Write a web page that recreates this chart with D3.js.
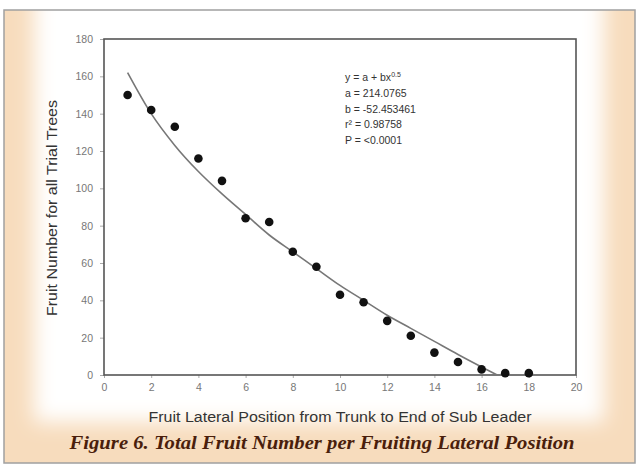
<!DOCTYPE html>
<html><head><meta charset="utf-8">
<script src="https://cdn.jsdelivr.net/npm/d3@7/dist/d3.min.js"></script>
<style>html,body{margin:0;padding:0;background:#fff;}svg{display:block;}</style>
</head><body>
<script>
// Data
const positions = [1,2,3,4,5,6,7,8,9,10,11,12,13,14,15,16,17,18];
const fruitCounts = [150,142,133,116,104,84,82,66,58,43,39,29,21,12,7,3,1,1];
// fitted curve, sampled from the drawn line
const curveX = [1,2,3,4,5,6,7,8,9,10,11,12,13,14,15,16,16.66];
const curveY = [162,140,123,109,97,86,75,66,57,48,40,32,25,18,11,4.3,0];
const xTicks = [0,2,4,6,8,10,12,14,16,18,20];
const yTicks = [0,20,40,60,80,100,120,140,160,180];
const statsLines = ["a = 214.0765","b = -52.453461","r\u00b2 = 0.98758","P = <0.0001"];
const xTitle = "Fruit Lateral Position from Trunk to End of Sub Leader";
const yTitle = "Fruit Number for all Trial Trees";
const caption = "Figure 6. Total Fruit Number per Fruiting Lateral Position";

const W = 638, H = 466;
const svg = d3.select("body").append("svg").attr("width", W).attr("height", H);
const defs = svg.append("defs");
defs.append("filter").attr("id","blur").attr("x","-20%").attr("y","-20%").attr("width","140%").attr("height","140%")
  .append("feGaussianBlur").attr("stdDeviation", 10);

// frame background
svg.append("rect").attr("x",0).attr("y",0).attr("width",W).attr("height",H).attr("fill","#fff");
svg.append("rect").attr("x",4).attr("y",10).attr("width",631).attr("height",453)
  .attr("fill","#f7dcbd");
svg.append("rect").attr("x",34).attr("y",-20).attr("width",570).attr("height",442)
  .attr("fill","#fff").attr("filter","url(#blur)");
svg.append("rect").attr("x",4).attr("y",10).attr("width",631).attr("height",453)
  .attr("fill","none").attr("stroke","#a0a0a0").attr("stroke-width",1.5);

const x = d3.scaleLinear().domain([0,20]).range([104,576]);
const y = d3.scaleLinear().domain([0,180]).range([375,39]);

const axisColor = "#555";
const gx = svg.append("g").attr("transform",`translate(0,${y(0)})`)
  .call(d3.axisBottom(x).tickValues(xTicks).tickSize(3).tickPadding(6).tickFormat(d3.format("d")));
const gy = svg.append("g").attr("transform",`translate(${x(0)},0)`)
  .call(d3.axisLeft(y).tickValues(yTicks).tickSize(4).tickPadding(7).tickFormat(d3.format("d")));
[gx,gy].forEach(g=>{
  g.select(".domain").remove();
  g.selectAll(".tick line").attr("stroke","#aaa");
  g.selectAll(".tick text").attr("fill","#777").style("font-family","Liberation Sans, Arial, sans-serif").style("font-size","10.5px");
});
// box
svg.append("rect").attr("x",x(0)).attr("y",y(180)).attr("width",x(20)-x(0)).attr("height",y(0)-y(180))
  .attr("fill","none").attr("stroke",axisColor).attr("stroke-width",1.6);

// fitted curve
const line = d3.line().x((d,i)=>x(curveX[i])).y((d,i)=>y(curveY[i])).curve(d3.curveMonotoneX);
svg.append("path").datum(curveY).attr("d",line).attr("fill","none").attr("stroke","#777").attr("stroke-width",1.6);

// points
svg.append("g").selectAll("circle").data(positions).join("circle")
  .attr("cx",(d)=>x(d)).attr("cy",(d,i)=>y(fruitCounts[i])).attr("r",4.3).attr("fill","#111");

// stats text
const st = svg.append("text").attr("x",345).attr("y",81).attr("fill","#333")
  .style("font-family","Liberation Sans, Arial, sans-serif").style("font-size","10.5px");
st.append("tspan").text("y = a + bx");
st.append("tspan").attr("dy",-4).style("font-size","7px").text("0.5");
statsLines.forEach((s,i)=>{
  svg.append("text").attr("x",345).attr("y",97+i*15.5).attr("fill","#333")
    .style("font-family","Liberation Sans, Arial, sans-serif").style("font-size","10.5px").text(s);
});

// axis titles
svg.append("text").attr("x",340).attr("y",422).attr("text-anchor","middle").attr("fill","#333")
  .attr("textLength",383).attr("lengthAdjust","spacingAndGlyphs")
  .style("font-family","Liberation Sans, Arial, sans-serif").style("font-size","14px").text(xTitle);
svg.append("text").attr("transform",`translate(57,${208}) rotate(-90)`).attr("text-anchor","middle").attr("fill","#333")
  .attr("textLength",216).attr("lengthAdjust","spacingAndGlyphs")
  .style("font-family","Liberation Sans, Arial, sans-serif").style("font-size","14px").text(yTitle);

// caption
svg.append("text").attr("x",322).attr("y",449).attr("text-anchor","middle").attr("fill","#4a1e0c")
  .attr("textLength",505).attr("lengthAdjust","spacingAndGlyphs")
  .style("font-family","Liberation Serif, Times New Roman, serif").style("font-size","18px")
  .style("font-weight","bold").style("font-style","italic").text(caption);
</script>
</body></html>
